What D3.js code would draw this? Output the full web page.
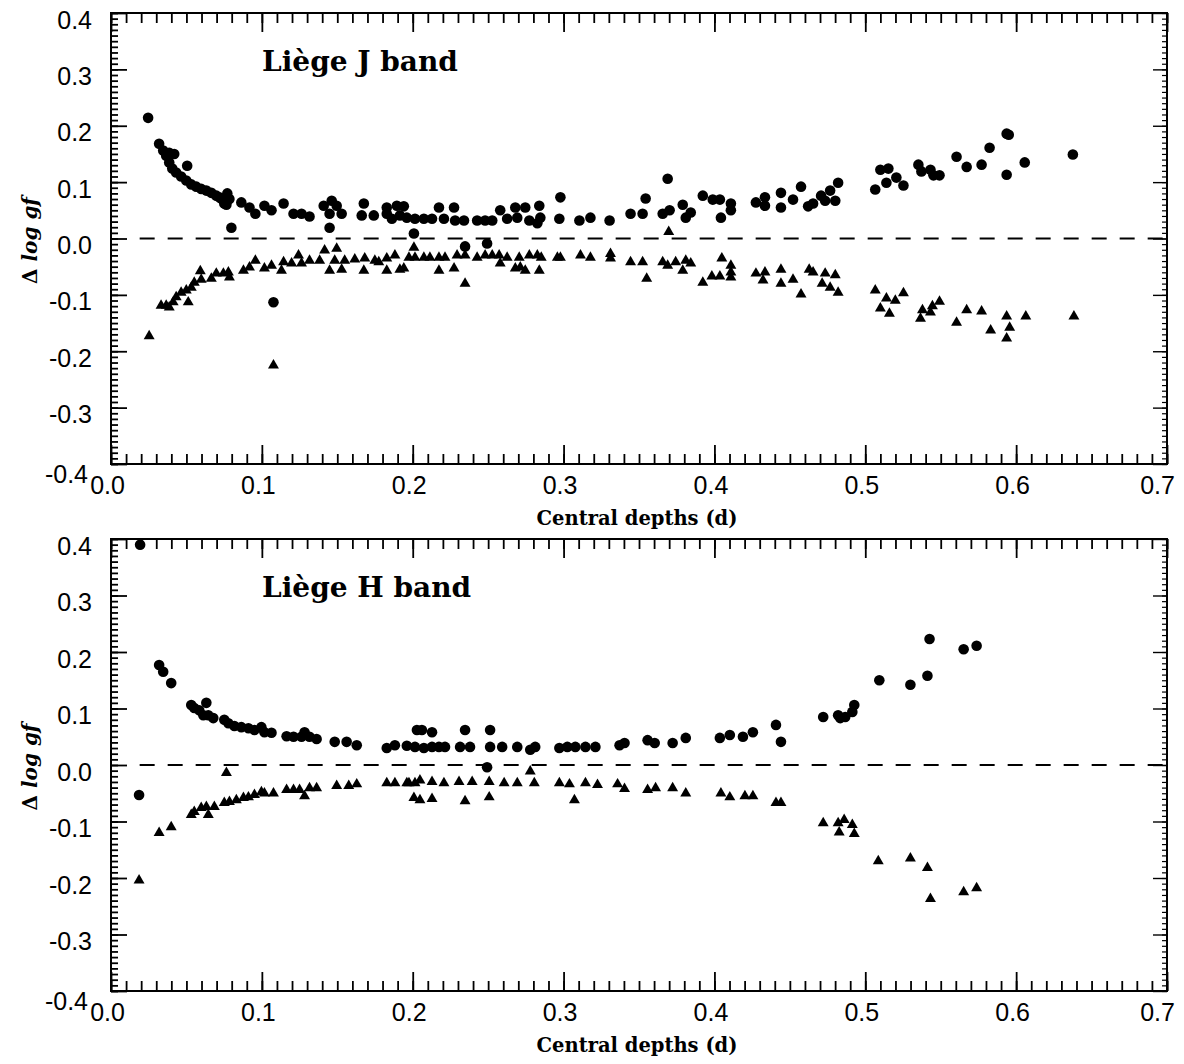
<!DOCTYPE html>
<html><head><meta charset="utf-8">
<script src="https://cdn.jsdelivr.net/npm/d3@7"></script>
<style>body{margin:0;background:#fff}svg{display:block}</style>
</head><body>
<script>
// ---- data: [central depth d, Δ log gf] ----
const jCircles = [
[.0246,.214],[.0319,.168],[.0346,.156],[.0386,.152],[.0419,.150],[.0505,.129],
[.0366,.147],[.0386,.135],[.0406,.124],[.0432,.117],[.0465,.110],[.0499,.103],[.0532,.096],[.0565,.092],
[.0598,.088],[.0632,.085],[.0665,.081],[.0698,.076],[.0718,.073],[.0731,.071],[.0758,.067],[.0771,.080],
[.0765,.060],[.0785,.070],[.0751,.062],[.0798,.019],
[.0864,.064],[.0918,.055],[.0957,.044],[.1017,.058],[.1064,.050],[.1144,.062],[.1210,.044],[.1263,.044],[.1316,.039],
[.1410,.058],[.1463,.067],[.1496,.058],[.1449,.044],[.1529,.044],[.1662,.041],[.1676,.062],[.1742,.041],
[.1828,.044],[.1895,.058],[.1915,.041],[.1449,.019],
[.1828,.055],[.1862,.035],[.1941,.057],[.1961,.037],[.2015,.035],[.2074,.035],[.2128,.035],[.2174,.055],
[.2207,.035],[.2274,.055],[.2281,.032],[.2340,.032],[.2427,.032],[.2480,.032],[.2527,.032],[.2580,.050],
[.2626,.035],[.2680,.055],[.2693,.037],[.2746,.055],[.2773,.032],[.2839,.058],[.2846,.037],[.2826,.027],
[.2979,.073],[.2972,.035],[.3105,.032],[.3178,.037],[.3305,.032],[.3444,.044],[.3524,.044],[.3544,.071],
[.3657,.044],[.3690,.106],[.3703,.050],[.3790,.060],[.3810,.037],[.3843,.046],[.3923,.076],[.3989,.069],
[.4036,.069],[.4043,.037],[.4109,.062],[.4109,.050],[.4275,.064],[.4335,.073],[.4335,.058],[.4441,.081],
[.4521,.069],[.4441,.055],[.4574,.092],
[.2008,.009],[.2347,-.014],[.2493,-.009],[.1077,-.113],
[.4621,.057],[.4654,.062],[.4707,.076],[.4734,.067],[.4767,.085],[.4801,.067],[.4820,.099],[.5066,.087],
[.5100,.122],[.5153,.124],[.5140,.099],[.5206,.108],[.5253,.094],[.5352,.131],[.5372,.119],[.5432,.122],
[.5452,.112],[.5492,.112],[.5605,.145],[.5672,.127],[.5771,.131],[.5824,.161],[.5937,.186],[.5951,.184],
[.5937,.113],[.6057,.135],[.6376,.149]
];
const jTriangles = [
[.0253,-.173],[.0332,-.119],[.0366,-.119],[.0386,-.122],[.0412,-.113],[.0432,-.104],[.0465,-.096],[.0499,-.092],
[.0512,-.113],[.0532,-.087],[.0552,-.078],[.0592,-.058],[.0598,-.073],[.0665,-.071],[.0698,-.062],[.0745,-.062],
[.0778,-.060],[.0785,-.069],[.0878,-.057],[.0918,-.051],[.0957,-.039],[.1017,-.053],[.1064,-.048],[.1130,-.057],
[.1144,-.042],[.1197,-.044],[.1243,-.030],[.1263,-.044],[.1316,-.039],[.1383,-.039],[.1416,-.021],[.1449,-.057],
[.1496,-.018],[.1483,-.039],[.1529,-.055],[.1549,-.039],[.1616,-.037],[.1676,-.057],[.1682,-.035],[.1749,-.039],
[.1775,-.042],[.1828,-.057],[.1828,-.035],[.1882,-.030],[.1915,-.055],[.1077,-.225],
[.1941,-.053],[.1975,-.034],[.2008,-.016],[.2015,-.034],[.2074,-.034],[.2114,-.034],[.2174,-.034],[.2174,-.057],
[.2214,-.034],[.2274,-.053],[.2294,-.030],[.2347,-.030],[.2347,-.080],[.2427,-.034],[.2480,-.030],[.2527,-.030],
[.2573,-.030],[.2580,-.044],[.2626,-.034],[.2680,-.053],[.2706,-.034],[.2713,-.051],[.2746,-.057],[.2773,-.030],
[.2826,-.030],[.2839,-.057],[.2852,-.034],[.2959,-.034],[.2979,-.034],[.3112,-.030],[.3178,-.034],[.3311,-.027],
[.3311,-.035],[.3444,-.042],[.3524,-.042],[.3551,-.071],[.3657,-.042],[.3690,-.048],[.3697,.012],[.3743,-.042],
[.3790,-.057],[.3810,-.039],[.3843,-.044],[.3923,-.078],[.3983,-.067],[.4036,-.067],[.4049,-.035],[.4109,-.048],
[.4109,-.060],[.4109,-.069],[.4275,-.062],[.4335,-.060],[.4322,-.074],[.4441,-.055],[.4441,-.080],[.4521,-.073],
[.4574,-.099],
[.4628,-.055],[.4654,-.060],[.4714,-.080],[.4734,-.062],[.4767,-.087],[.4801,-.065],[.4820,-.096],[.5066,-.092],
[.5100,-.124],[.5140,-.106],[.5160,-.133],[.5199,-.110],[.5253,-.097],[.5366,-.142],[.5379,-.127],[.5432,-.131],
[.5445,-.120],[.5492,-.112],[.5605,-.149],[.5672,-.127],[.5771,-.129],[.5831,-.163],[.5937,-.138],[.5957,-.158],
[.5937,-.177],[.6064,-.138],[.6383,-.138]
];
const hCircles = [
[.0193,.390],[.0186,-.053],[.0319,.177],[.0346,.165],[.0399,.145],[.0532,.106],[.0552,.101],[.0585,.097],
[.0632,.110],[.0612,.088],[.0645,.088],[.0678,.083],[.0751,.080],[.0778,.074],[.0818,.069],[.0864,.067],
[.0911,.065],[.0951,.062],[.0997,.067],[.1017,.058],[.1064,.057],[.1164,.051],[.1210,.050],[.1263,.050],
[.1283,.058],[.1316,.050],[.1363,.046],[.1483,.041],[.1562,.041],[.1629,.035],[.1828,.030],[.1882,.035],
[.1961,.034],[.2015,.032],[.2028,.062],[.2061,.062],[.2128,.058],[.2074,.030],[.2128,.032],[.2174,.032],
[.2214,.032],[.2314,.032],[.2347,.062],[.2380,.032],[.2513,.062],[.2513,.032],[.2593,.032],[.2693,.032],
[.2779,.027],[.2812,.032],[.2493,-.004],[.2972,.030],[.3025,.032],[.3078,.032],[.3145,.032],[.3211,.032],
[.3371,.035],[.3404,.039],[.3557,.044],[.3604,.039],[.3723,.039],[.3810,.048],[.4036,.048],[.4102,.053],
[.4189,.050],[.4255,.058],[.4408,.071],[.4441,.041],[.4721,.085],[.4820,.088],[.4834,.083],[.4867,.085],
[.4914,.094],[.4927,.106],[.5093,.150],[.5299,.142],[.5412,.158],[.5426,.223],[.5652,.205],[.5738,.211]
];
const hTriangles = [
[.0186,-.204],[.0319,-.120],[.0399,-.110],[.0532,-.088],[.0552,-.083],[.0598,-.076],[.0632,-.074],[.0645,-.088],
[.0685,-.074],[.0751,-.067],[.0765,-.014],[.0785,-.065],[.0831,-.062],[.0878,-.058],[.0911,-.057],[.0951,-.053],
[.0997,-.048],[.1017,-.050],[.1077,-.050],[.1164,-.044],[.1210,-.044],[.1250,-.044],[.1283,-.055],[.1316,-.041],
[.1363,-.041],[.1496,-.037],[.1576,-.037],[.1629,-.034],[.1828,-.032],[.1882,-.032],[.1961,-.032],[.2015,-.032],
[.2008,-.058],[.2048,-.062],[.1975,-.032],[.2048,-.027],[.2128,-.030],[.2128,-.060],[.2207,-.032],[.2307,-.030],
[.2347,-.064],[.2394,-.030],[.2507,-.030],[.2507,-.057],[.2606,-.032],[.2693,-.032],[.2779,-.011],[.2806,-.032],
[.2972,-.032],[.3039,-.034],[.3072,-.062],[.3145,-.032],[.3225,-.035],[.3358,-.034],[.3404,-.042],[.3557,-.044],
[.3610,-.041],[.3723,-.041],[.3810,-.050],[.4043,-.050],[.4102,-.057],[.4202,-.055],[.4255,-.055],[.4408,-.067],
[.4441,-.067],[.4721,-.103],[.4820,-.103],[.4860,-.097],[.4827,-.119],[.4914,-.106],[.4927,-.122],[.5086,-.170],
[.5299,-.165],[.5412,-.182],[.5432,-.237],[.5652,-.225],[.5738,-.218]
];
const xMajorTicks = [0, 0.1, 0.2, 0.3, 0.4, 0.5, 0.6, 0.7];
const yMajorTicks = [-0.4, -0.3, -0.2, -0.1, 0, 0.1, 0.2, 0.3, 0.4];
const panelTitles = ["Liège J band", "Liège H band"];
const xTitle = "Central depths (d)";

// ---- drawing ----
const svg = d3.select("body").append("svg").attr("width", 1184).attr("height", 1064);
const xMinor = d3.range(0, 71).map(i => +(i / 100).toFixed(2));
const yMinor = d3.range(-40, 41).map(i => +(i / 100).toFixed(2));
const fmt = d => (Math.abs(d) < 1e-9 ? 0 : d).toFixed(1);

const panels = [
  {circles: jCircles, tris: jTriangles, title: panelTitles[0], top: 13, bottom: 464},
  {circles: hCircles, tris: hTriangles, title: panelTitles[1], top: 539, bottom: 991}
];

panels.forEach(p => {
  const x = d3.scaleLinear().domain([0, 0.7]).range([111, 1167]);
  const y = d3.scaleLinear().domain([-0.4, 0.4]).range([p.bottom, p.top]);
  const g = svg.append("g");

  function styleAxis(sel, w) {
    sel.select(".domain").remove();
    sel.selectAll(".tick line").attr("stroke", "#000").attr("stroke-width", w);
  }
  // bottom
  g.append("g").attr("transform", `translate(0,${p.bottom})`)
    .call(d3.axisBottom(x).tickValues(xMinor).tickSize(-10).tickFormat("")).call(s => styleAxis(s, 1.8));
  const bx = g.append("g").attr("transform", `translate(0,${p.bottom})`)
    .call(d3.axisBottom(x).tickValues(xMajorTicks).tickSize(-19).tickPadding(12).tickFormat(fmt))
    .call(s => styleAxis(s, 1.8));
  bx.selectAll("text").attr("font-family", "Liberation Sans, Arial, sans-serif").attr("font-size", 25)
    .attr("fill", "#000").attr("dx", d => d === 0.7 ? -10 : -4);
  // top
  g.append("g").attr("transform", `translate(0,${p.top})`)
    .call(d3.axisTop(x).tickValues(xMinor).tickSize(-10).tickFormat("")).call(s => styleAxis(s, 1.8));
  g.append("g").attr("transform", `translate(0,${p.top})`)
    .call(d3.axisTop(x).tickValues(xMajorTicks).tickSize(-19).tickFormat("")).call(s => styleAxis(s, 1.8));
  // left
  g.append("g").attr("transform", `translate(${x(0)},0)`)
    .call(d3.axisLeft(y).tickValues(yMinor).tickSize(-7).tickFormat("")).call(s => styleAxis(s, 1.8));
  const ly = g.append("g").attr("transform", `translate(${x(0)},0)`)
    .call(d3.axisLeft(y).tickValues(yMajorTicks).tickSize(-16).tickPadding(19).tickFormat(fmt))
    .call(s => styleAxis(s, 1.8));
  ly.selectAll("text").attr("font-family", "Liberation Sans, Arial, sans-serif").attr("font-size", 25)
    .attr("fill", "#000").attr("dy", d => d === -0.4 ? 18 : 15).attr("dx", d => d === -0.4 ? -4 : 0);
  // right
  g.append("g").attr("transform", `translate(${x(0.7)},0)`)
    .call(d3.axisRight(y).tickValues(yMinor).tickSize(-5).tickFormat("")).call(s => styleAxis(s, 1.2));
  g.append("g").attr("transform", `translate(${x(0.7)},0)`)
    .call(d3.axisRight(y).tickValues(yMajorTicks).tickSize(-14).tickFormat("")).call(s => styleAxis(s, 1.4));

  // frame
  g.append("rect").attr("x", x(0)).attr("y", y(0.4)).attr("width", x(0.7) - x(0)).attr("height", y(-0.4) - y(0.4))
    .attr("fill", "none").attr("stroke", "#000").attr("stroke-width", 2);

  // zero dashed line
  g.append("line").attr("x1", x(0.019)).attr("x2", x(0.7)).attr("y1", y(0)).attr("y2", y(0))
    .attr("stroke", "#000").attr("stroke-width", 2).attr("stroke-dasharray", "15,13");

  // circles
  g.append("g").selectAll("circle").data(p.circles).join("circle")
    .attr("cx", d => x(d[0])).attr("cy", d => y(d[1])).attr("r", 5.3).attr("fill", "#000");
  // triangles
  const tri = d3.symbol().type(d3.symbolTriangle).size(52);
  g.append("g").selectAll("path").data(p.tris).join("path")
    .attr("d", tri).attr("transform", d => `translate(${x(d[0])},${y(d[1])})`).attr("fill", "#000");

  // panel title
  g.append("text").attr("x", 262).attr("y", p.top + 58).text(p.title)
    .attr("font-family", "DejaVu Serif, serif").attr("font-weight", "bold").attr("font-size", 28).attr("fill", "#000");

  // x title
  g.append("text").attr("x", 637).attr("y", p.bottom + 61).attr("text-anchor", "middle").text(xTitle)
    .attr("font-family", "DejaVu Serif, serif").attr("font-weight", "bold").attr("font-size", 19.5).attr("fill", "#000");

  // y title
  const yt = g.append("text").attr("transform", `translate(37,${(p.top + p.bottom) / 2 + 2}) rotate(-90)`)
    .attr("text-anchor", "middle").attr("font-family", "DejaVu Serif, serif").attr("font-weight", "bold")
    .attr("font-size", 20).attr("fill", "#000");
  yt.append("tspan").text("Δ ");
  yt.append("tspan").attr("font-style", "italic").text("log gf");
});
</script>
</body></html>
